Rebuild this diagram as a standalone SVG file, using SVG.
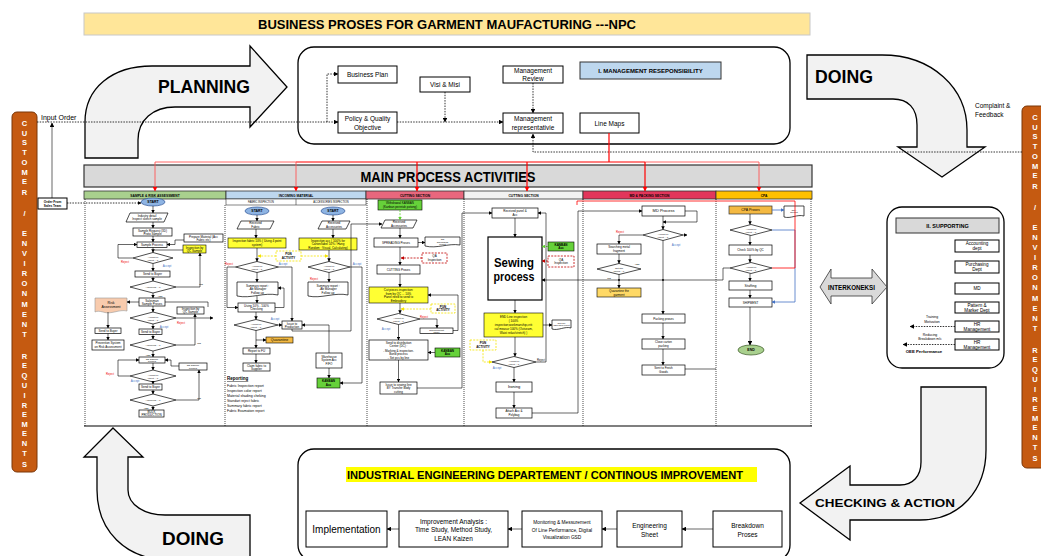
<svg xmlns="http://www.w3.org/2000/svg" width="1041" height="556" viewBox="0 0 1041 556">
<defs>
<style>
text{font-family:"Liberation Sans",Arial,sans-serif;fill:#000}
.c{text-anchor:middle}
.s{font-size:3px}
.s2{font-size:2.5px}
.m{font-size:6.5px}
.b{font-weight:bold}
.bx{fill:#fff;stroke:#000;stroke-width:0.7}
.bk{fill:#fff;stroke:#000;stroke-width:1}
.ln{fill:none;stroke:#000;stroke-width:0.6}
.dt{fill:none;stroke:#000;stroke-width:0.8;stroke-dasharray:1.5,1.2}
.yd{fill:none;stroke:#f5e400;stroke-width:0.8;stroke-dasharray:2,1.2}
.rd{fill:none;stroke:#c00000;stroke-width:0.8;stroke-dasharray:2,1.2}
.gd{fill:none;stroke:#5ad12a;stroke-width:0.8;stroke-dasharray:2,1.2}
.rl{fill:none;stroke:#f00;stroke-width:1.2}
.rp{fill:none;stroke:#f55;stroke-width:0.9}
.bl{fill:none;stroke:#4472c4;stroke-width:0.8}
.yl{fill:#ffff33;stroke:#000;stroke-width:0.6}
.gr{fill:#66d13a;stroke:#000;stroke-width:0.6}
.rj{fill:#e00;font-size:2.8px}
.ac{fill:#4472c4;font-size:2.8px}
.big{fill:#f2f2f2;stroke:#000;stroke-width:1.3}
.cu{fill:#c55a11;stroke:#7a3608;stroke-width:1}
.cl{fill:#fff;font-size:7.5px;font-weight:bold;text-anchor:middle}
.sep{fill:none;stroke:#000;stroke-width:0.7;stroke-dasharray:1,1}
</style>
<marker id="a" viewBox="0 0 10 10" refX="9" refY="5" markerWidth="3.5" markerHeight="3.5" markerUnits="userSpaceOnUse" orient="auto"><path d="M0,0L10,5L0,10z" fill="#000"/></marker>
<marker id="a2" viewBox="0 0 10 10" refX="9" refY="5" markerWidth="4.5" markerHeight="4.5" markerUnits="userSpaceOnUse" orient="auto"><path d="M0,0L10,5L0,10z" fill="#000"/></marker>
<marker id="ar" viewBox="0 0 10 10" refX="9" refY="5" markerWidth="5" markerHeight="5" markerUnits="userSpaceOnUse" orient="auto"><path d="M0,0L10,5L0,10z" fill="#f00"/></marker>
<marker id="ar2" viewBox="0 0 10 10" refX="9" refY="5" markerWidth="3.5" markerHeight="3.5" markerUnits="userSpaceOnUse" orient="auto"><path d="M0,0L10,5L0,10z" fill="#c00000"/></marker>
<marker id="ab" viewBox="0 0 10 10" refX="9" refY="5" markerWidth="3.5" markerHeight="3.5" markerUnits="userSpaceOnUse" orient="auto"><path d="M0,0L10,5L0,10z" fill="#4472c4"/></marker>
<marker id="ag" viewBox="0 0 10 10" refX="9" refY="5" markerWidth="3.5" markerHeight="3.5" markerUnits="userSpaceOnUse" orient="auto"><path d="M0,0L10,5L0,10z" fill="#5ad12a"/></marker>
<marker id="ay" viewBox="0 0 10 10" refX="9" refY="5" markerWidth="3.5" markerHeight="3.5" markerUnits="userSpaceOnUse" orient="auto"><path d="M0,0L10,5L0,10z" fill="#f5e400"/></marker>
</defs>
<rect width="1041" height="556" fill="#fff"/>

<g id="title">
<rect x="84" y="13" width="726" height="22" fill="#ffe699" stroke="#c8c8c8"/>
<text x="447" y="29.3" class="c b" font-size="13.5" textLength="378" lengthAdjust="spacingAndGlyphs">BUSINESS PROSES FOR GARMENT MAUFACTURING ---NPC</text>
</g>

<g id="planning-arrow">
<path class="big" d="M85,158 L85,122 C85,88 112,66 152,66 L250,66 L250,46 L287,87 L250,127 L250,107 L175,107 C153,107 138,120 138,140 L138,158 Z"/>
<text x="204" y="93" class="c b" font-size="18" textLength="92" lengthAdjust="spacingAndGlyphs">PLANNING</text>
</g>

<g id="doing-top-arrow">
<path class="big" d="M807,55 L882,55 C932,55 967,88 967,130 L967,147 L985,147 L942,177 L898,147 L917,147 L917,125 C917,108 908,99 893,99 L807,99 Z"/>
<text x="844" y="83" class="c b" font-size="18" textLength="58" lengthAdjust="spacingAndGlyphs">DOING</text>
</g>

<g id="doing-bottom-arrow">
<path class="big" d="M113,428 L143,457 L128,457 L128,490 C128,505 145,515 165,515 L250,515 L250,560 L170,560 C125,560 97,530 97,490 L97,457 L84,457 Z"/>
<text x="193" y="545" class="c b" font-size="18" textLength="62" lengthAdjust="spacingAndGlyphs">DOING</text>
</g>

<g id="checking-arrow">
<path class="big" d="M921,387 L986,387 L986,450 C986,490 960,520 920,520 L850,520 L850,540 L800,503 L850,466 L850,485 L900,485 C913,485 921,476 921,462 Z"/>
<text x="885" y="507" class="c b" font-size="11" textLength="140" lengthAdjust="spacingAndGlyphs">CHECKING &amp; ACTION</text>
</g>

<g id="customer-left">
<rect class="cu" x="12" y="112" width="25" height="360" rx="5"/>
<text class="cl"><tspan x="24.5" y="125.7">C</tspan><tspan x="24.5" y="135.7">U</tspan><tspan x="24.5" y="144.7">S</tspan><tspan x="24.5" y="154.7">T</tspan><tspan x="24.5" y="164.7">O</tspan><tspan x="24.5" y="174.7">M</tspan><tspan x="24.5" y="183.7">E</tspan><tspan x="24.5" y="194.7">R</tspan><tspan x="24.5" y="215.7">/</tspan><tspan x="24.5" y="235.7">E</tspan><tspan x="24.5" y="245.7">N</tspan><tspan x="24.5" y="255.7">V</tspan><tspan x="24.5" y="265.7">I</tspan><tspan x="24.5" y="275.7">R</tspan><tspan x="24.5" y="285.7">O</tspan><tspan x="24.5" y="295.7">N</tspan><tspan x="24.5" y="306.7">M</tspan><tspan x="24.5" y="316.7">E</tspan><tspan x="24.5" y="326.7">N</tspan><tspan x="24.5" y="336.7">T</tspan><tspan x="24.5" y="358.7">R</tspan><tspan x="24.5" y="367.7">E</tspan><tspan x="24.5" y="377.7">Q</tspan><tspan x="24.5" y="387.7">U</tspan><tspan x="24.5" y="397.7">I</tspan><tspan x="24.5" y="407.7">R</tspan><tspan x="24.5" y="416.7">E</tspan><tspan x="24.5" y="426.7">M</tspan><tspan x="24.5" y="435.7">E</tspan><tspan x="24.5" y="445.7">N</tspan><tspan x="24.5" y="455.7">T</tspan><tspan x="24.5" y="466.7">S</tspan></text>
</g>

<g id="customer-right">
<rect class="cu" x="1022" y="106" width="30" height="362" rx="5"/>
<text class="cl"><tspan x="1035" y="119.7">C</tspan><tspan x="1035" y="129.7">U</tspan><tspan x="1035" y="138.7">S</tspan><tspan x="1035" y="148.7">T</tspan><tspan x="1035" y="158.7">O</tspan><tspan x="1035" y="168.7">M</tspan><tspan x="1035" y="177.7">E</tspan><tspan x="1035" y="188.7">R</tspan><tspan x="1035" y="209.7">/</tspan><tspan x="1035" y="229.7">E</tspan><tspan x="1035" y="239.7">N</tspan><tspan x="1035" y="249.7">V</tspan><tspan x="1035" y="259.7">I</tspan><tspan x="1035" y="269.7">R</tspan><tspan x="1035" y="279.7">O</tspan><tspan x="1035" y="289.7">N</tspan><tspan x="1035" y="300.7">M</tspan><tspan x="1035" y="310.7">E</tspan><tspan x="1035" y="320.7">N</tspan><tspan x="1035" y="330.7">T</tspan><tspan x="1035" y="352.7">R</tspan><tspan x="1035" y="361.7">E</tspan><tspan x="1035" y="371.7">Q</tspan><tspan x="1035" y="381.7">U</tspan><tspan x="1035" y="391.7">I</tspan><tspan x="1035" y="401.7">R</tspan><tspan x="1035" y="410.7">E</tspan><tspan x="1035" y="420.7">M</tspan><tspan x="1035" y="429.7">E</tspan><tspan x="1035" y="439.7">N</tspan><tspan x="1035" y="449.7">T</tspan><tspan x="1035" y="460.7">S</tspan></text>
</g>

<g id="management">
<rect x="298" y="47" width="492" height="97" rx="16" fill="#fff" stroke="#000" stroke-width="1.3"/>
<g id="business-plan"><rect class="bk" x="338" y="66" width="59" height="17"/><text x="367.5" y="77" class="c m" fill="#333">Business Plan</text></g>
<g id="visi-misi"><rect class="bk" x="420" y="77" width="50" height="15"/><text x="445" y="87" class="c m">Visi &amp; Misi</text></g>
<g id="mgmt-review"><rect class="bk" x="503" y="66" width="60" height="17"/><text x="533" y="72.5" class="c m">Management</text><text x="533" y="80.5" class="c m">Review</text></g>
<g id="mgmt-resp"><rect x="580" y="62" width="141" height="17" fill="#bdd7ee" stroke="#333" stroke-width="1"/><text x="650.5" y="73" class="c b" font-size="6">I. MANAGEMENT RESEPONSIBILITY</text></g>
<g id="policy"><rect class="bk" x="338" y="112" width="59" height="21"/><text x="367.5" y="120.5" class="c m">Policy &amp; Quality</text><text x="367.5" y="129.5" class="c m">Objective</text></g>
<g id="mgmt-rep"><rect class="bk" x="503" y="113" width="60" height="20"/><text x="533" y="121" class="c m">Management</text><text x="533" y="130" class="c m">representativie</text></g>
<g id="line-maps"><rect class="bk" x="580" y="113" width="59" height="20"/><text x="609.5" y="125.5" class="c m">Line Maps</text></g>
</g>

<g id="main-bar">
<rect x="84" y="165" width="728" height="22" fill="#d9d9d9" stroke="#333" stroke-width="1.2"/>
<text x="448" y="181.5" class="c b" font-size="14.5" textLength="175" lengthAdjust="spacingAndGlyphs">MAIN PROCESS ACTIVITIES</text>
</g>

<g id="lanes">
<rect x="84" y="191" width="142" height="8" fill="#a9d08e" stroke="#333" stroke-width="0.8"/>
<text x="155" y="196.8" class="c b" font-size="3.3">SAMPLE &amp; RISK ASSESSMENT</text>
<rect x="226" y="191" width="140" height="8" fill="#bdd7ee" stroke="#333" stroke-width="0.8"/>
<text x="296" y="196.8" class="c b" font-size="3.3">INCOMING MATERIAL</text>
<rect x="226" y="199" width="140" height="6" fill="#fff" stroke="#333" stroke-width="0.6"/>
<line x1="296" y1="199" x2="296" y2="205" stroke="#333" stroke-width="0.6"/>
<text x="261" y="203.2" class="c" font-size="2.6">FABRIC INSPECTION</text>
<text x="331" y="203.2" class="c" font-size="2.6">ACCESSORIES INSPECTION</text>
<rect x="366" y="191" width="98" height="8" fill="#e8677d" stroke="#333" stroke-width="0.8"/>
<text x="415" y="196.8" class="c b" font-size="3.3">CUTTING SECTION</text>
<rect x="464" y="191" width="119" height="8" fill="#f2f2f2" stroke="#333" stroke-width="0.8"/>
<text x="523.5" y="196.8" class="c b" font-size="3.3">CUTTING SECTION</text>
<rect x="583" y="191" width="133" height="8" fill="#e2365b" stroke="#333" stroke-width="0.8"/>
<text x="649.5" y="196.8" class="c b" font-size="3.3">MD &amp; PACKING SECTION</text>
<rect x="716" y="191" width="96" height="8" fill="#ffc000" stroke="#333" stroke-width="0.8"/>
<text x="764" y="196.8" class="c b" font-size="3.3">CPA</text>
<path class="sep" d="M85,199 V426 M225,205 V426 M367,199 V426 M464,199 V426 M583,199 V426 M716,199 V426 M811,199 V426"/>
<line x1="84" y1="426" x2="812" y2="426" stroke="#000" stroke-width="1.2"/>
</g>

<g id="lane-sample">
<ellipse cx="153" cy="202" rx="12" ry="4" fill="#8eb4e3" stroke="#2f5597" stroke-width="0.7"/>
<text x="153" y="203.3" class="c b" font-size="3.5">START</text>
<polygon class="bx" points="130,213 168,213 164,222 126,222"/>
<text x="147" y="216.8" class="c s">Industry detail</text><text x="147" y="220.4" class="c s">Inspect sketch sample</text>
<rect class="bx" x="133" y="228" width="39" height="8"/>
<text x="152.5" y="231.5" class="c s">Sample Request (3D)</text><text x="152.5" y="235" class="c s">Proto Sample</text>
<rect class="bx" x="184" y="234" width="39" height="8"/>
<text x="203.5" y="237.5" class="c s">Prepare Material (Acc</text><text x="203.5" y="241" class="c s">Fabric etc)</text>
<rect class="bx" x="137" y="242" width="30" height="5.5"/>
<text x="152" y="245.9" class="c s">Sample Process</text>
<rect class="yl" x="183" y="245" width="23" height="8"/>
<text x="194.5" y="248.6" class="c s">Inspection by</text><text x="194.5" y="252" class="c s">QC Sample</text>
<polygon class="bx" points="133,258 153,252.5 173,258 153,263.5"/>
<text x="153" y="257.5" class="c s2">Accept or</text><text x="153" y="260.5" class="c s2">reject ...?</text>
<text x="125" y="262.5" class="c rj">Reject</text><text x="167" y="266.5" class="c ac">Accept</text>
<rect class="bx" x="135" y="271" width="35" height="6"/>
<text x="152.5" y="275.1" class="c s">Send to Buyer</text>
<polygon class="bx" points="130,287 153,281 176,287 153,293"/>
<text x="153" y="288.1" class="c s2">Approved ...?</text>
<text x="201" y="285" class="c s2">NO</text><text x="160" y="296.5" class="c s2">YES</text>
<rect class="bx" x="139" y="298" width="26" height="8"/>
<text x="152" y="301.5" class="c s">Salesman</text><text x="152" y="305" class="c s">Sample Proses</text>
<path d="M95,298 L127,298 L127,311 C119,309 111,315 103,312 C99,311 97,311 95,312 Z" fill="#f8cbad" stroke="#999" stroke-width="0.6"/>
<text x="111" y="303.5" class="c" font-size="3.5" fill="#4472c4">Risk</text><text x="111" y="308" class="c" font-size="3.5" fill="#4472c4">Assessment</text>
<rect class="bx" x="177" y="307" width="27" height="7"/>
<text x="190.5" y="310.2" class="c s">Inspection by</text><text x="190.5" y="313.3" class="c s">QC Sample</text>
<polygon class="bx" points="130,318 153,312 176,318 153,324"/>
<text x="153" y="317.5" class="c s2">Accept or</text><text x="153" y="320.5" class="c s2">reject ...?</text>
<text x="181" y="323.5" class="c rj">Reject</text><text x="164" y="327.5" class="c ac">Accept</text>
<rect class="bx" x="95" y="328" width="26" height="5.5"/>
<text x="108" y="331.8" class="c s">Send to Buyer</text>
<rect class="bx" x="139" y="329" width="23" height="5.5"/>
<text x="150.5" y="332.8" class="c s">Send to Buyer</text>
<rect class="bx" x="92" y="340" width="32" height="10"/>
<text x="108" y="344.2" class="c s">Prevention System</text><text x="108" y="347.6" class="c s">on Risk Assessment</text>
<polygon class="bx" points="130,345 153,339 176,345 153,351"/>
<text x="153" y="346.1" class="c s2">Approved ...?</text>
<text x="199" y="343.5" class="c s2">NO</text><text x="148" y="355.5" class="c s2">YES</text>
<rect class="bx" x="139" y="357" width="26" height="6"/>
<text x="152" y="359.7" class="c s2">Off Sample</text><text x="152" y="362.4" class="c s2">Proses</text>
<rect class="bx" x="179" y="363" width="28" height="7"/>
<text x="193" y="366" class="c s2">Off Sample</text><text x="193" y="369" class="c s2">Proses</text>
<polygon class="bx" points="130,376 153,370 176,376 153,382"/>
<text x="153" y="375.5" class="c s2">Accept or</text><text x="153" y="378.5" class="c s2">reject ...?</text>
<text x="110" y="375" class="c rj">Reject</text><text x="135" y="381.5" class="c ac">Accept</text>
<rect class="bx" x="139" y="384" width="23" height="6"/>
<text x="150.5" y="388" class="c s">Send to Buyer</text>
<polygon class="bx" points="130,400 153,394 176,400 153,406"/>
<text x="153" y="401.1" class="c s2">Approved ...?</text>
<text x="199" y="398.5" class="c s2">NO</text><text x="146" y="408.5" class="c s2">YES</text>
<rect class="bx" x="139" y="410" width="25" height="7"/>
<text x="151.5" y="413.2" class="c s">BULK</text><text x="151.5" y="416.4" class="c s">PRODUCTION</text>
</g>

<g id="lane-incoming">
<ellipse cx="257" cy="211" rx="12" ry="4" fill="#8eb4e3" stroke="#2f5597" stroke-width="0.7"/>
<text x="257" y="212.3" class="c b" font-size="3.5">START</text>
<ellipse cx="333" cy="211" rx="12" ry="4" fill="#8eb4e3" stroke="#2f5597" stroke-width="0.7"/>
<text x="333" y="212.3" class="c b" font-size="3.5">START</text>
<polygon class="bx" points="241,221 274,221 270,229 237,229"/>
<text x="255.5" y="224.4" class="c s">Received</text><text x="255.5" y="227.8" class="c s">Fabric</text>
<polygon class="bx" points="322,221 350,221 346,229 318,229"/>
<text x="334" y="224.4" class="c s">Received</text><text x="334" y="227.8" class="c s">Accessories</text>
<rect class="yl" x="228" y="238" width="58" height="10"/>
<text x="257" y="242.3" class="c s">Inspection fabric 10% ( Using 4 point</text><text x="257" y="245.8" class="c s">system)</text>
<rect class="yl" x="299" y="238" width="58" height="12"/>
<text x="328" y="241.8" class="c s">Inspection acc ( 100% for</text><text x="328" y="245.2" class="c s">Carton/label 10% / Hang</text><text x="328" y="248.6" class="c s">Random : Visual, Calculating)</text>
<rect class="yd" x="276" y="251" width="25" height="10"/>
<text x="288.5" y="255.3" class="c b s">PGN</text><text x="288.5" y="258.7" class="c b s">ACTIVITY</text>
<polygon class="bx" points="235.5,267 257,261.5 278.5,267 257,272.5"/>
<text x="257" y="266.5" class="c s2">Accept or</text><text x="257" y="269.5" class="c s2">reject ...?</text>
<polygon class="bx" points="308,267 329,261.5 350,267 329,272.5"/>
<text x="329" y="266.5" class="c s2">Accept or</text><text x="329" y="269.5" class="c s2">reject ...?</text>
<text x="229" y="265" class="c rj">Reject</text><text x="283" y="265" class="c ac">Accept</text>
<text x="314" y="279.5" class="c rj">Reject</text><text x="357" y="264.5" class="c ac">Accept</text>
<path class="bx" d="M237,282 H278 V295 C264,292 251,299 237,296 Z"/>
<text x="257.5" y="286.5" class="c s">Summary report :</text><text x="257.5" y="290" class="c s">-Ab Manager</text><text x="257.5" y="293.5" class="c s">Follow up</text>
<path class="bx" d="M308,282 H348 V295 C335,292 321,299 308,296 Z"/>
<text x="328" y="286.5" class="c s">Summary report :</text><text x="328" y="290" class="c s">-Ab Manager</text><text x="328" y="293.5" class="c s">Follow up</text>
<rect class="bx" x="238" y="303" width="37" height="9"/>
<text x="256.5" y="306.8" class="c s">Using 10% - 100%</text><text x="256.5" y="310.3" class="c s">Checking</text>
<polygon class="bx" points="234,325 256,319.5 278,325 256,330.5"/>
<text x="256" y="324.5" class="c s2">Accept or</text><text x="256" y="327.5" class="c s2">reject ...?</text>
<text x="275" y="320" class="c ac">Accept</text>
<rect class="bx" x="282" y="321" width="20" height="8"/>
<text x="292" y="324.5" class="c s">Issue to</text><text x="292" y="327.7" class="c s">Production</text>
<rect x="266" y="337" width="27" height="6" fill="#f4b942" stroke="#000" stroke-width="0.6"/>
<text x="279.5" y="341.2" class="c" font-size="3.5">Quarantine</text>
<rect class="bx" x="243" y="348" width="27" height="6"/>
<text x="256.5" y="352" class="c s">Report to FU</text>
<rect class="bx" x="243" y="363" width="27" height="8"/>
<text x="256.5" y="366.5" class="c s">Claim fabric to</text><text x="256.5" y="369.8" class="c s">Supplier</text>
<text x="227" y="380" class="b" font-size="4.5" fill="#e00" text-decoration="underline">Reporting</text>
<g font-size="3.5" fill="#4472c4">
<text x="227" y="386.5" fill="#4472c4">Fabric Inspection report</text>
<text x="227" y="391.5" fill="#4472c4">Inspection color report</text>
<text x="227" y="396.5" fill="#4472c4">Material shading cheking</text>
<text x="227" y="401.5" fill="#4472c4">Standart reject fabric</text>
<text x="227" y="406.5" fill="#4472c4">Summary fabric report</text>
<text x="227" y="411.5" fill="#4472c4">Fabric Examation report</text>
</g>
<rect class="bx" x="316" y="353" width="26" height="15"/>
<text x="329" y="357.8" class="c s">Warehouse</text><text x="329" y="361.3" class="c s">System Acc</text><text x="329" y="364.8" class="c s">FIFO</text>
<rect class="gr" x="317" y="378" width="23" height="10"/>
<text x="328.5" y="382.3" class="c b s">KANBAN</text><text x="328.5" y="385.8" class="c b s">Acc</text>
</g>

<g id="lane-cutting">
<rect class="gr" x="378" y="200" width="44" height="10"/>
<text x="400" y="204.3" class="c s">Withdrawal KANBAN</text><text x="400" y="207.8" class="c s">(Kanban perintah potong)</text>
<polygon class="bx" points="385,220 417,220 413,228 381,228"/>
<text x="399" y="223.4" class="c s">Received</text><text x="399" y="226.8" class="c s">Accessories</text>
<rect class="bx" x="374" y="238" width="44" height="9"/>
<text x="396" y="243.6" class="c s">SPREADING Proses</text>
<path class="bx" d="M425,237 H460 V245 C448,243 437,249 425,246 Z"/>
<text x="442.5" y="240" class="c s2">QC</text><text x="442.5" y="242.6" class="c s2">Spreading</text><text x="442.5" y="245" class="c s2">report</text>
<rect class="rd" x="422" y="253" width="25" height="10"/>
<text x="434.5" y="257.3" class="c s">QA</text><text x="434.5" y="260.8" class="c s">Inspection</text>
<rect class="bx" x="377" y="265" width="43" height="9"/>
<text x="398.5" y="270.6" class="c s">CUTTING Proses</text>
<rect class="yl" x="369" y="287" width="59" height="16"/>
<text x="398.5" y="291" class="c s">Cut pieces inspection:</text><text x="398.5" y="294.5" class="c s">from by QC ... 10%</text><text x="398.5" y="298" class="c s">Panel need to send to</text><text x="398.5" y="301.5" class="c s">Embroidery</text>
<rect class="yd" x="431" y="304" width="24" height="9"/>
<text x="443" y="308" class="c b s">PGN</text><text x="443" y="311.4" class="c b s">ACTIVITY</text>
<polygon class="bx" points="377,319 398.5,313.5 420,319 398.5,324.5"/>
<text x="398.5" y="318.5" class="c s2">Accept or</text><text x="398.5" y="321.5" class="c s2">reject ...?</text>
<text x="424" y="317.5" class="c rj">Reject</text><text x="386" y="329.5" class="c ac">Accept</text>
<rect class="bx" x="420" y="328" width="33" height="5.5"/>
<text x="436.5" y="330.5" class="c s2">Replacement</text><text x="436.5" y="333" class="c s2">panel</text>
<rect class="bx" x="369" y="340" width="59" height="20"/>
<text x="398.5" y="344" class="c s">Send to distribution</text><text x="398.5" y="347.3" class="c s">Center (DC) :</text><text x="398.5" y="352" class="c s">- Marking &amp; inspection.</text><text x="398.5" y="355.3" class="c s">Bond process</text><text x="398.5" y="358.6" class="c s">- Set pcs by line</text>
<rect class="gr" x="435" y="348" width="25" height="9"/>
<text x="447.5" y="352" class="c b s">KANBAN</text><text x="447.5" y="355.4" class="c b s">Acc</text>
<rect class="bx" x="380" y="382" width="37" height="12"/>
<text x="398.5" y="386" class="c s">Issue to sewing line</text><text x="398.5" y="389.4" class="c s">BY Transfer Body</text><text x="398.5" y="392.8" class="c s">cutting</text>
</g>

<g id="lane-sewing">
<rect class="bx" x="492" y="208" width="46" height="10"/>
<text x="515" y="212.3" class="c s">Received panel &amp;</text><text x="515" y="215.8" class="c s">Acc</text>
<rect x="488" y="237" width="54" height="63" fill="#fff" stroke="#000" stroke-width="1.2"/>
<text x="514" y="266.5" class="c b" font-size="13" textLength="40" lengthAdjust="spacingAndGlyphs">Sewing</text><text x="514" y="281" class="c b" font-size="13" textLength="41" lengthAdjust="spacingAndGlyphs">process</text>
<rect class="gr" x="548" y="242" width="26" height="9"/>
<text x="561" y="246" class="c b s">KANBAN</text><text x="561" y="249.4" class="c b s">Acc</text>
<rect class="rd" x="548" y="256" width="26" height="11"/>
<text x="561" y="260.5" class="c s">QA</text><text x="561" y="264.3" class="c s">Inspection</text>
<rect class="yl" x="484" y="313" width="59" height="24"/>
<text x="513.5" y="317.5" class="c s">END Line inspection</text><text x="513.5" y="321.5" class="c s">( 100%</text><text x="513.5" y="325.5" class="c s">inspection;workmanship,criti</text><text x="513.5" y="329.5" class="c s">cal measur 100% (Outseam,</text><text x="513.5" y="333.5" class="c s">Waist relax/stretch) )</text>
<path class="bx" d="M552,320 H571 V328 C565,326 558,331 552,329 Z"/>
<text x="561.5" y="323.5" class="c" font-size="2.2">QC Line</text><text x="561.5" y="326" class="c" font-size="2.2">inspection report</text>
<rect class="yd" x="470" y="340" width="26" height="10"/>
<text x="483" y="344.3" class="c b s">PGN</text><text x="483" y="347.7" class="c b s">ACTIVITY</text>
<polygon class="bx" points="492,362 514,356.5 536,362 514,367.5"/>
<text x="514" y="361.5" class="c s2">Accept or</text><text x="514" y="364.5" class="c s2">reject ...?</text>
<text x="541" y="360.5" class="c" font-size="2.8">Reject</text><text x="497" y="369" class="c ac">Accept</text>
<rect class="bx" x="496" y="382" width="36" height="10"/>
<text x="514" y="388.4" class="c" font-size="4">Ironing</text>
<rect class="bx" x="496" y="408" width="36" height="10"/>
<text x="514" y="412.3" class="c s">Attach Acc &amp;</text><text x="514" y="415.8" class="c s">Polybag</text>
</g>

<g id="lane-md">
<rect class="bx" x="642" y="206" width="43" height="10"/>
<text x="663.5" y="212.4" class="c" font-size="4">MD Process</text>
<polygon class="bx" points="643,235 663,229.5 683,235 663,240.5"/>
<text x="663" y="234.5" class="c s2">Accept or</text><text x="663" y="237.5" class="c s2">reject ...?</text>
<text x="620" y="232.5" class="c rj">Reject</text><text x="676" y="246" class="c ac">Accept</text>
<rect class="bx" x="597" y="244" width="44" height="10"/>
<text x="619" y="248.3" class="c s">Searching metal</text><text x="619" y="251.8" class="c s">fragment</text>
<polygon class="bx" points="597,269 619,263.5 641,269 619,274.5"/>
<text x="619" y="268.5" class="c s2">Get the</text><text x="619" y="271.5" class="c s2">found ...?</text>
<text x="637" y="264.5" class="c s2">YES</text><text x="609" y="279" class="c s2">NO</text>
<rect x="597" y="288" width="44" height="9" fill="#ffd966" stroke="#000" stroke-width="0.6"/>
<text x="619" y="292" class="c s">Quarantine the</text><text x="619" y="295.5" class="c s">garment</text>
<rect class="bx" x="642" y="314" width="43" height="9"/>
<text x="663.5" y="319.8" class="c s">Packing proses</text>
<rect class="bx" x="642" y="339" width="43" height="10"/>
<text x="663.5" y="343.3" class="c s">Close carton</text><text x="663.5" y="346.8" class="c s">packing</text>
<rect class="bx" x="642" y="365" width="43" height="10"/>
<text x="663.5" y="369.3" class="c s">Sent to Finish</text><text x="663.5" y="372.8" class="c s">Goods</text>
</g>

<g id="lane-cpa">
<rect x="729" y="206" width="43" height="8" fill="#f4b942" stroke="#333" stroke-width="0.7"/>
<text x="750.5" y="211.2" class="c" font-size="3.5">CPA Proses</text>
<path class="bx" d="M784,206 H804 V216 C797,214 791,219 784,217 Z"/>
<text x="794" y="210.5" class="c s2">CPA</text><text x="794" y="213.3" class="c s2">Report</text>
<polygon class="bx" points="730,230 751,224.5 772,230 751,235.5"/>
<text x="751" y="229.5" class="c s2">Accept or</text><text x="751" y="232.5" class="c s2">reject ...?</text>
<rect class="bx" x="729" y="245" width="43" height="10"/>
<text x="750.5" y="251.1" class="c s">Check 100% by QC</text>
<polygon class="bx" points="730,268 751,262.5 772,268 751,273.5"/>
<text x="751" y="267.5" class="c s2">Accept or</text><text x="751" y="270.5" class="c s2">reject ...?</text>
<rect class="bx" x="729" y="281" width="43" height="9"/>
<text x="750.5" y="286.7" class="c" font-size="3.5">Stuffing</text>
<rect class="bx" x="729" y="298" width="43" height="9"/>
<text x="750.5" y="303.7" class="c s">SHIPMENT</text>
<ellipse cx="751" cy="350" rx="13" ry="5" fill="#a9d08e" stroke="#375623" stroke-width="0.7"/>
<text x="751" y="351.3" class="c b" font-size="3.5">END</text>
</g>

<g id="supporting">
<rect x="887" y="207" width="117" height="161" rx="15" fill="#fff" stroke="#000" stroke-width="1.3"/>
<rect x="896" y="218" width="103" height="15" fill="#d9d9d9" stroke="#333" stroke-width="1"/>
<text x="947.5" y="227.5" class="c b" font-size="5.5">II. SUPPORTING</text>
<g font-size="4.6">
<rect class="bk" x="955" y="240" width="44" height="12"/><text x="977" y="245" class="c">Accounting</text><text x="977" y="250.3" class="c">dept</text>
<rect class="bk" x="955" y="261" width="44" height="12"/><text x="977" y="266" class="c">Purchasing</text><text x="977" y="271.3" class="c">Dept</text>
<rect class="bk" x="955" y="283" width="44" height="11"/><text x="977" y="290.2" class="c">MD</text>
<rect class="bk" x="955" y="302" width="44" height="11"/><text x="977" y="306.6" class="c">Pattern &amp;</text><text x="977" y="311.8" class="c">Marker Dept</text>
<rect class="bk" x="955" y="321" width="44" height="11"/><text x="977" y="325.6" class="c">HR</text><text x="977" y="330.8" class="c">Management</text>
<rect class="bk" x="955" y="339" width="44" height="11"/><text x="977" y="343.6" class="c">HR</text><text x="977" y="348.8" class="c">Management</text>
</g>
<text x="932" y="318.3" class="c" font-size="3.4">Training</text><text x="932" y="323" class="c" font-size="3.4">Motivation</text>
<text x="930" y="335.5" class="c" font-size="3.4">Reducing</text><text x="930" y="340.2" class="c" font-size="3.4">Breakdown m/c</text>
<text x="924" y="353" class="c b" font-size="4.3">OEE Performance</text>
</g>

<g id="interkoneksi">
<path d="M820,287 L831,269 L831,278 L872,278 L872,269 L887,287 L872,304 L872,296 L831,296 L831,304 Z" fill="#d9d9d9" stroke="#333" stroke-width="0.8"/>
<text x="851.5" y="289.5" class="c b" font-size="6.3" textLength="47" lengthAdjust="spacingAndGlyphs">INTERKONEKSI</text>
</g>

<g id="ie-department">
<rect x="298" y="449" width="492" height="112" rx="16" fill="#fff" stroke="#000" stroke-width="1.3"/>
<rect x="346" y="467" width="411" height="15" fill="#ffff00"/>
<text x="545" y="478.5" class="c b" font-size="11.5" textLength="396" lengthAdjust="spacingAndGlyphs">INDUSTRIAL ENGINEERING DEPARTEMENT / CONTINOUS IMPROVEMENT</text>
<rect class="bk" x="306" y="511" width="81" height="36"/>
<text x="346.5" y="533" class="c" font-size="10">Implementation</text>
<rect class="bk" x="399" y="511" width="109" height="36"/>
<text x="453.5" y="523.5" class="c" font-size="6.5">Improvement Analysis :</text><text x="453.5" y="532.3" class="c" font-size="6.5">Time Study, Method Study,</text><text x="453.5" y="541.1" class="c" font-size="6.5">LEAN Kaizen</text>
<rect class="bk" x="522" y="511" width="80" height="36"/>
<text x="562" y="523.8" class="c" font-size="4.8">Monitoring &amp; Messurement</text><text x="562" y="531.5" class="c" font-size="4.8">Of Line Performance, Digital</text><text x="562" y="539.2" class="c" font-size="4.8">Visualization GSD</text>
<rect class="bk" x="617" y="511" width="65" height="36"/>
<text x="649.5" y="528" class="c" font-size="6.5">Engineering</text><text x="649.5" y="537" class="c" font-size="6.5">Sheet</text>
<rect class="bk" x="713" y="511" width="69" height="36"/>
<text x="747.5" y="528" class="c" font-size="6.5">Breakdown</text><text x="747.5" y="537" class="c" font-size="6.5">Proses</text>
</g>

<g id="order-from-sales">
<rect class="bk" x="38" y="198" width="29" height="11"/>
<text x="52.5" y="202.6" class="c b" font-size="3.2">Order From</text><text x="52.5" y="206.6" class="c b" font-size="3.2">Sales Team</text>
</g>

<g id="labels">
<text x="41" y="119.8" font-size="7" fill="#333">Input Order</text>
<text x="975" y="108.3" font-size="6.5" fill="#333">Complaint &amp;</text>
<text x="975" y="116.8" font-size="6.5" fill="#333">Feedback</text>
</g>

<g id="connectors">
<path class="dt" d="M37,122 H338" marker-end="url(#a2)"/>
<path class="dt" d="M327,122 V74 H338" marker-end="url(#a2)"/>
<path class="dt" d="M397,122 H503" marker-end="url(#a2)"/>
<path class="dt" d="M445,92 V122" marker-end="url(#a2)"/>
<path class="dt" d="M533,83 V113" marker-end="url(#a2)"/>
<path class="dt" d="M1022,152 H533 V134" marker-end="url(#a2)"/>
<path class="ln" d="M52,198 V123" stroke-width="0.8" marker-end="url(#a2)"/>
<path class="dt" d="M67,203 H141" stroke-width="0.7" marker-end="url(#a)"/>

<path class="rl" d="M609,133 V162 M296,162 H645"/>
<path class="rp" d="M155,162 H296 M645,162 H759"/>
<path class="rp" d="M155,162 V191" marker-end="url(#ar)"/>
<path class="rp" d="M296,162 V191" marker-end="url(#ar)"/>
<path class="rl" d="M417,162 V191" marker-end="url(#ar)"/>
<path class="rl" d="M527,162 V191" marker-end="url(#ar)"/>
<path class="rl" d="M645,162 V191" marker-end="url(#ar)"/>
<path class="rp" d="M759,162 V191" marker-end="url(#ar)"/>

<path class="ln" d="M153,206 V213" marker-end="url(#a)"/>
<path class="ln" d="M153,222 V228" marker-end="url(#a)"/>
<path class="ln" d="M153,236 V242" marker-end="url(#a)"/>
<path class="ln" d="M184,240 H175 V244.5 H167" marker-end="url(#a)"/>
<path class="ln" d="M183,250 H153"/>
<path class="ln" d="M153,247.5 V252.5" marker-end="url(#a)"/>
<path class="ln" d="M133,258 H118 V244.5 H137" marker-end="url(#a)"/>
<path class="ln" d="M153,263.5 V271" marker-end="url(#a)"/>
<path class="ln" d="M153,277 V281" marker-end="url(#a)"/>
<path class="ln" d="M176,287 H200 V253" marker-end="url(#a)"/>
<path class="ln" d="M153,293 V298" marker-end="url(#a)"/>
<path class="ln" d="M139,302 H127" marker-end="url(#a)"/>
<path class="ln" d="M108,312 V328" marker-end="url(#a)"/>
<path class="ln" d="M108,333.5 V340" marker-end="url(#a)"/>
<path class="ln" d="M165,302 H208 V307"/>
<path class="ln" d="M153,306 V312" marker-end="url(#a)"/>
<path class="ln" d="M176,318 H213" marker-end="url(#a)"/>
<path class="ln" d="M153,324 V329" marker-end="url(#a)"/>
<path class="ln" d="M153,334.5 V339" marker-end="url(#a)"/>
<path class="ln" d="M176,345 H195 V314" marker-end="url(#a)"/>
<path class="ln" d="M153,351 V357" marker-end="url(#a)"/>
<path class="ln" d="M153,363 V370" marker-end="url(#a)"/>
<path class="ln" d="M130,376 H118 V360 H139" marker-end="url(#a)"/>
<path class="ln" d="M179,366 H171 V360 H165" marker-end="url(#a)"/>
<path class="ln" d="M153,382 V384" marker-end="url(#a)"/>
<path class="ln" d="M153,390 V394" marker-end="url(#a)"/>
<path class="ln" d="M176,400 H199 V370" marker-end="url(#a)"/>
<path class="ln" d="M153,406 V410" marker-end="url(#a)"/>

<path class="ln" d="M257,215 V221" marker-end="url(#a)"/>
<path class="ln" d="M333,215 V221" marker-end="url(#a)"/>
<path class="ln" d="M256,229 V238" marker-end="url(#a)"/>
<path class="ln" d="M333,229 V238" marker-end="url(#a)"/>
<path class="ln" d="M257,248 V261.5" marker-end="url(#a)"/>
<path class="ln" d="M329,250 V261.5" marker-end="url(#a)"/>
<path class="yd" d="M276,256 H258" marker-end="url(#ay)"/>
<path class="yd" d="M301,256 H328" marker-end="url(#ay)"/>
<path class="ln" d="M235.5,267 H227 V307.5 H238" marker-end="url(#a)"/>
<path class="ln" d="M257,272.5 V282" marker-end="url(#a)"/>
<path class="ln" d="M257,296 V303" marker-end="url(#a)"/>
<path class="ln" d="M275,307.5 H284 V288 H278" marker-end="url(#a)"/>
<path class="ln" d="M256,312 V319.5" marker-end="url(#a)"/>
<path class="ln" d="M278,325 H282" marker-end="url(#a)"/>
<path class="ln" d="M278.5,267 H292 V321" marker-end="url(#a)"/>
<path class="ln" d="M256,330.5 V348" marker-end="url(#a)"/>
<path class="ln" d="M256,340 H266" marker-end="url(#a)"/>
<path class="ln" d="M256,354 V363" marker-end="url(#a)"/>
<path class="ln" d="M329,272.5 V282" marker-end="url(#a)"/>
<path class="ln" d="M350,267 H362 V383 H340" marker-end="url(#a)"/>
<path class="ln" d="M329,368 V378" marker-end="url(#a)"/>
<path class="ln" d="M329,353 V325 H302" marker-end="url(#a)"/>
<path class="ln" d="M292,329 V331 H351 V224 H382" marker-end="url(#a)"/>

<path class="gd" d="M400,210 V220" marker-end="url(#ag)"/>
<path class="ln" d="M400,228 V238" marker-end="url(#a)"/>
<path class="ln" d="M418,242.5 H425" marker-end="url(#a)"/>
<path class="ln" d="M400,247 V265" marker-end="url(#a)"/>
<path class="rd" d="M422,258 H401" marker-end="url(#ar2)"/>
<path class="ln" d="M400,274 V287" marker-end="url(#a)"/>
<path class="ln" d="M400,303 V313.5" marker-end="url(#a)"/>
<path class="yd" d="M431,309 H401" marker-end="url(#ay)"/>
<path class="ln" d="M420,319 H437 V328" marker-end="url(#a)"/>
<path class="ln" d="M453,330.5 H458 V295 H428" marker-end="url(#a)"/>
<path class="ln" d="M398.5,324.5 V340" marker-end="url(#a)"/>
<path class="ln" d="M435,352.5 H428" marker-end="url(#a)"/>
<path class="ln" d="M398.5,360 V382" marker-end="url(#a)"/>
<path class="ln" d="M417,388 H462 V213 H492" marker-end="url(#a)"/>

<path class="ln" d="M515,218 V237" marker-end="url(#a)"/>
<path class="gd" d="M548,246.5 H542" marker-end="url(#ag)"/>
<path class="rd" d="M548,261 H542" marker-end="url(#ar2)"/>
<path class="ln" d="M515,300 V313" marker-end="url(#a)"/>
<path class="ln" d="M543,325 H552" marker-end="url(#a)"/>
<path class="ln" d="M515,337 V356.5" marker-end="url(#a)"/>
<path class="yd" d="M483,350 V362 H492" marker-end="url(#ay)"/>
<path class="ln" d="M536,362 H546 V213 H538" marker-end="url(#a)"/>
<path class="ln" d="M514,367.5 V382" marker-end="url(#a)"/>
<path class="ln" d="M514,392 V408" marker-end="url(#a)"/>
<path class="ln" d="M532,413 H578 V211 H642" marker-end="url(#a)"/>
<path class="ln" d="M730,268 H723 V280 H542" marker-end="url(#a)"/>

<path class="ln" d="M685,211 H697 V222 H663" marker-end="url(#a)"/>
<path class="ln" d="M663,216 V229.5" marker-end="url(#a)"/>
<path class="ln" d="M683,235 H687" marker-end="url(#a)"/>
<path class="ln" d="M643,235 H619 V244" marker-end="url(#a)"/>
<path class="ln" d="M619,254 V263.5" marker-end="url(#a)"/>
<path class="ln" d="M619,274.5 V288" marker-end="url(#a)"/>
<path class="ln" d="M663,240.5 V314" marker-end="url(#a)"/>
<circle cx="663" cy="280" r="0.9"/><circle cx="619" cy="280" r="0.9"/>
<path class="ln" d="M663,323 V339" marker-end="url(#a)"/>
<path class="ln" d="M663,349 V365" marker-end="url(#a)"/>
<path class="ln" d="M685,369 H716"/>

<path class="bl" d="M772,210 H784" marker-end="url(#ab)"/>
<path class="ln" d="M750,214 V224.5" marker-end="url(#a)"/>
<path class="bl" d="M772,230 H795 V302 H772" marker-end="url(#ab)"/>
<path class="ln" d="M750,235.5 V245" marker-end="url(#a)"/>
<path class="ln" d="M750,255 V262.5" marker-end="url(#a)"/>
<path fill="none" stroke="#f00" stroke-width="0.8" d="M772,268 H795 V201 H577 V205"/>
<path class="ln" d="M750,273.5 V281" marker-end="url(#a)"/>
<path class="ln" d="M750,290 V298" marker-end="url(#a)"/>
<path class="ln" d="M750,307 V345" stroke-width="1" marker-end="url(#a2)"/>

<path class="dt" d="M955,326.5 H910" marker-end="url(#a2)"/>
<path class="dt" d="M955,344.5 H903" marker-end="url(#a2)"/>

<path class="ln" d="M713,529 H682" stroke-width="0.8" marker-end="url(#a2)"/>
<path class="ln" d="M617,529 H602" stroke-width="0.8" marker-end="url(#a2)"/>
<path class="ln" d="M522,529 H508" stroke-width="0.8" marker-end="url(#a2)"/>
<path class="ln" d="M399,529 H387" stroke-width="0.8" marker-end="url(#a2)"/>
</g>
</svg>
